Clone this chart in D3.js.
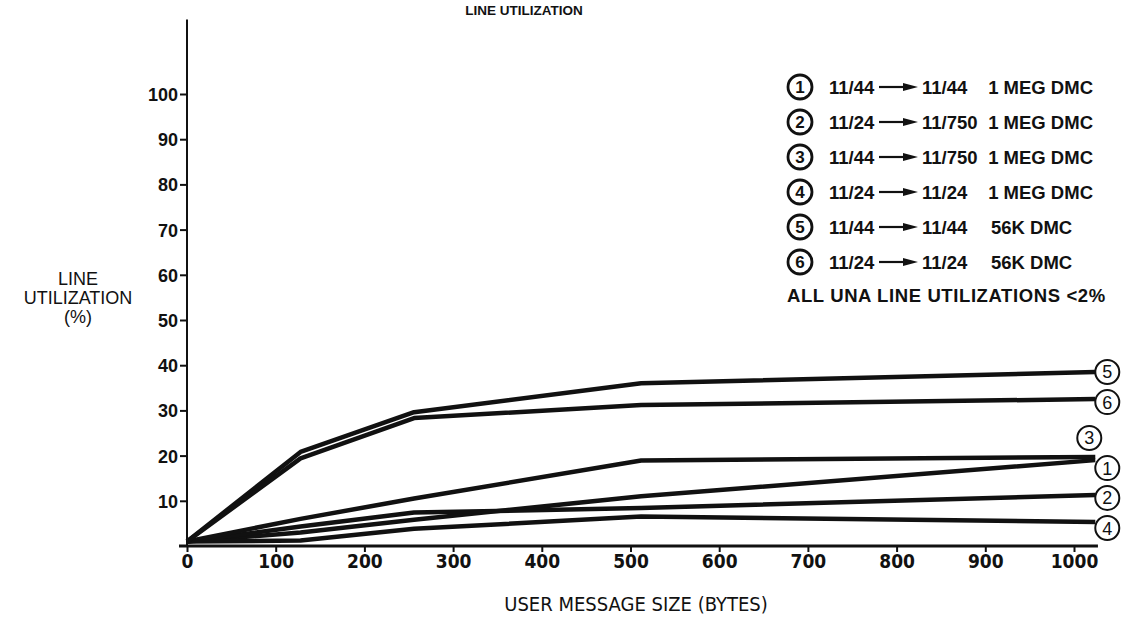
<!DOCTYPE html>
<html>
<head>
<meta charset="utf-8">
<script src="https://cdn.jsdelivr.net/npm/d3@7"></script>
<style>
  body { margin: 0; background: #fff; }
  text { font-family: "Liberation Sans", Arial, sans-serif; fill: #111; }
</style>
</head>
<body>
<svg id="chart" width="1123" height="619"></svg>
<script>
// message sizes (bytes) where each curve was measured
const sizes = [0, 128, 256, 512, 1024];

// line utilization (%) per configuration
const util1 = [1, 3.0, 5.8, 11.0, 19.0];
const util2 = [1, 4.3, 7.4, 8.4, 11.3];
const util3 = [1, 6.0, 10.5, 18.9, 19.7];
const util4 = [1, 1.2, 3.8, 6.5, 5.3];
const util5 = [1, 20.8, 29.6, 36.0, 38.5];
const util6 = [1, 19.4, 28.3, 31.2, 32.5];

const seriesIds = [1, 2, 3, 4, 5, 6];
const seriesValues = [util1, util2, util3, util4, util5, util6];

// legend text
const legendFrom = ["11/44", "11/24", "11/44", "11/24", "11/44", "11/24"];
const legendTo = ["11/44", "11/750", "11/750", "11/24", "11/44", "11/24"];
const legendLink = ["1 MEG DMC", "1 MEG DMC", "1 MEG DMC", "1 MEG DMC", "56K DMC", "56K DMC"];
const legendNote = "ALL UNA LINE UTILIZATIONS  <2%";

const xTicks = [0, 100, 200, 300, 400, 500, 600, 700, 800, 900, 1000];
const yTicks = [10, 20, 30, 40, 50, 60, 70, 80, 90, 100];

const svg = d3.select("#chart");
const narrow = "'Liberation Sans Narrow', 'DejaVu Sans Condensed', sans-serif";

const x = d3.scaleLinear().domain([0, 1000]).range([187, 1074]);
const y = d3.scaleLinear().domain([0, 100]).range([546, 94]);

// label offsets at line ends (px), to keep circles clear of each other
const endDx = { 1: 12, 2: 12, 3: -6, 4: 12, 5: 12, 6: 12 };
const endDy = { 1: 8, 2: 3, 3: -19, 4: 6, 5: 0, 6: 3 };

// title
svg.append("text")
  .attr("x", 524).attr("y", 15)
  .attr("text-anchor", "middle")
  .style("font-size", "13.5px").style("font-weight", "bold")
  .text("LINE UTILIZATION");

// y axis
const yAxis = svg.append("g")
  .attr("transform", `translate(${x(0)},0)`)
  .call(d3.axisLeft(y).tickValues(yTicks).tickSize(7).tickPadding(2));
yAxis.select(".domain").remove();
yAxis.selectAll("line").attr("stroke", "#111").attr("stroke-width", 2);
yAxis.selectAll("text")
  .style("font-size", "18px").style("font-weight", "bold")
  .attr("dy", "0.36em");
svg.append("line")
  .attr("x1", x(0)).attr("x2", x(0))
  .attr("y1", y(0)).attr("y2", y(116.5))
  .attr("stroke", "#111").attr("stroke-width", 2);

// x axis
const xAxis = svg.append("g")
  .attr("transform", `translate(0,${y(0)})`)
  .call(d3.axisBottom(x).tickValues(xTicks).tickFormat(d3.format("d")).tickSize(6).tickPadding(3));
xAxis.select(".domain").remove();
xAxis.selectAll("line").attr("stroke", "#111").attr("stroke-width", 2);
xAxis.selectAll("text")
  .style("font-family", narrow)
  .style("font-size", "19px").style("font-weight", "bold");
svg.append("line")
  .attr("x1", x(-9)).attr("x2", x(1027))
  .attr("y1", y(0)).attr("y2", y(0))
  .attr("stroke", "#111").attr("stroke-width", 3);

// axis titles
svg.append("text")
  .attr("x", 636).attr("y", 611)
  .attr("text-anchor", "middle")
  .style("font-family", narrow)
  .style("font-size", "20px")
  .text("USER MESSAGE SIZE (BYTES)");

const yTitle = svg.append("text")
  .attr("x", 78).attr("y", 285)
  .attr("text-anchor", "middle")
  .style("font-size", "18px");
["LINE", "UTILIZATION", "(%)"].forEach((t, i) => {
  yTitle.append("tspan").attr("x", 78).attr("dy", i === 0 ? 0 : 19).text(t);
});

// curves
const line = d3.line()
  .x((d, i) => x(sizes[i]))
  .y((d) => y(d));

svg.selectAll(".curve")
  .data(seriesValues)
  .enter()
  .append("path")
  .attr("class", "curve")
  .attr("d", line)
  .attr("fill", "none")
  .attr("stroke", "#111")
  .attr("stroke-width", 4.5)
  .attr("stroke-linejoin", "round");

// circled numbers at line ends
const ends = svg.selectAll(".endlabel")
  .data(seriesIds)
  .enter()
  .append("g")
  .attr("class", "endlabel")
  .attr("transform", (id, i) => {
    const vals = seriesValues[i];
    const cx = x(sizes[sizes.length - 1]) + endDx[id];
    const cy = y(vals[vals.length - 1]) + endDy[id];
    return `translate(${cx},${cy})`;
  });
ends.append("circle")
  .attr("r", 12).attr("fill", "#fff")
  .attr("stroke", "#111").attr("stroke-width", 2);
ends.append("text")
  .attr("text-anchor", "middle").attr("dy", "0.36em")
  .style("font-size", "18px")
  .text((d) => d);

// legend
const legend = svg.append("g");
const rowY = (i) => 87 + i * 35;

legendFrom.forEach((from, i) => {
  const g = legend.append("g").attr("transform", `translate(0,${rowY(i)})`);
  g.append("circle").attr("cx", 800).attr("cy", 0).attr("r", 12)
    .attr("fill", "none").attr("stroke", "#111").attr("stroke-width", 2.8);
  g.append("text").attr("x", 800).attr("dy", "0.36em")
    .attr("text-anchor", "middle")
    .style("font-size", "17px").style("font-weight", "bold")
    .text(seriesIds[i]);
  g.append("text").attr("x", 829).attr("dy", "0.36em")
    .style("font-size", "18.5px").style("font-weight", "bold")
    .text(from);
  g.append("line").attr("x1", 879).attr("x2", 906)
    .attr("y1", 0).attr("y2", 0)
    .attr("stroke", "#111").attr("stroke-width", 2.2);
  g.append("path").attr("d", "M903,-4 L918,0 L903,4 Z").attr("fill", "#111");
  g.append("text").attr("x", 922).attr("dy", "0.36em")
    .style("font-size", "18.5px").style("font-weight", "bold")
    .text(legendTo[i]);
  g.append("text").attr("dy", "0.36em")
    .attr("text-anchor", i < 4 ? "end" : "start")
    .attr("x", i < 4 ? 1093 : 991)
    .style("font-size", "18.5px").style("font-weight", "bold")
    .text(legendLink[i]);
});

legend.append("text")
  .attr("x", 787).attr("y", rowY(6) - 2).attr("dy", "0.36em")
  .style("font-size", "18.5px").style("font-weight", "bold")
  .style("letter-spacing", "0.6px")
  .text(legendNote);
</script>
</body>
</html>
